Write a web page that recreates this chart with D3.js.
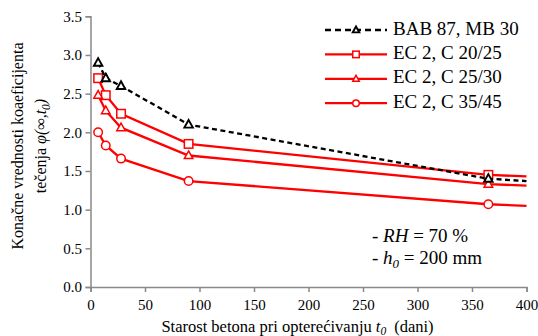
<!DOCTYPE html>
<html>
<head>
<meta charset="utf-8">
<script src="https://cdn.jsdelivr.net/npm/d3@7"></script>
<style>
  html, body { margin: 0; padding: 0; background: #fff; }
</style>
</head>
<body>
<svg id="chart" width="538" height="336" font-family="Liberation Serif"></svg>
<script>
// Age at loading t0 (days); the last point carries the curve to the end of the axis
const ages = [7, 14, 28, 90, 365, 400];
const markedCount = 5;

const bab87 = [2.9, 2.7, 2.6, 2.1, 1.4, 1.37];
const ec2C2025 = [2.7, 2.48, 2.24, 1.85, 1.45, 1.43];
const ec2C2530 = [2.48, 2.28, 2.06, 1.70, 1.33, 1.31];
const ec2C3545 = [2.0, 1.83, 1.66, 1.37, 1.07, 1.05];

const seriesNames = ["BAB 87, MB 30", "EC 2, C 20/25", "EC 2, C 25/30", "EC 2, C 35/45"];
const xTicks = [0, 50, 100, 150, 200, 250, 300, 350, 400];
const yTicks = [0.0, 0.5, 1.0, 1.5, 2.0, 2.5, 3.0, 3.5];

const series = [
  { name: seriesNames[0], values: bab87, color: "#000", dash: "5,3.5", marker: "triangle", mw: 1.9 },
  { name: seriesNames[1], values: ec2C2025, color: "#ff0000", dash: null, marker: "square", mw: 1.5 },
  { name: seriesNames[2], values: ec2C2530, color: "#ff0000", dash: null, marker: "triangle", mw: 1.5 },
  { name: seriesNames[3], values: ec2C3545, color: "#ff0000", dash: null, marker: "circle", mw: 1.5 }
];

const FONT = "Liberation Serif";
const svg = d3.select("#chart");
const x = d3.scaleLinear().domain([0, 400]).range([90.5, 526.5]);
const y = d3.scaleLinear().domain([0, 3.5]).range([287, 16.3]);
const axisColor = "#898989";

// Axes
const xAxis = svg.append("g").attr("transform", `translate(0,${y(0)})`)
  .call(d3.axisBottom(x).tickValues(xTicks).tickSize(5).tickFormat(d3.format("d")));
const yAxis = svg.append("g").attr("transform", `translate(${x(0)},0)`)
  .call(d3.axisLeft(y).tickValues(yTicks).tickSize(5).tickFormat(d3.format(".1f")));
[xAxis, yAxis].forEach(g => {
  g.attr("font-family", FONT);
  g.select(".domain").attr("stroke", axisColor).attr("stroke-width", 1.5);
  g.selectAll(".tick line").attr("stroke", axisColor).attr("stroke-width", 1.5);
  g.selectAll(".tick text").attr("fill", "#000").attr("font-size", 15).attr("font-family", FONT);
});
xAxis.selectAll(".tick text").attr("y", 12);
yAxis.selectAll(".tick text").attr("x", -8.5);

// Marker drawing
function drawMarker(g, type, cx, cy, size, color, sw) {
  if (type === "triangle") {
    const h = size * 0.9, w = size;
    g.append("path")
      .attr("d", `M${cx},${cy - h * 0.6}L${cx + w / 2},${cy + h * 0.4}L${cx - w / 2},${cy + h * 0.4}Z`)
      .attr("fill", "#fff").attr("stroke", color).attr("stroke-width", sw);
  } else if (type === "square") {
    g.append("rect")
      .attr("x", cx - size / 2).attr("y", cy - size / 2)
      .attr("width", size).attr("height", size)
      .attr("fill", "#fff").attr("stroke", color).attr("stroke-width", sw);
  } else {
    g.append("circle").attr("cx", cx).attr("cy", cy).attr("r", size / 2)
      .attr("fill", "#fff").attr("stroke", color).attr("stroke-width", sw);
  }
}

const line = d3.line().x(d => x(d[0])).y(d => y(d[1]));

// Draw red series first, then the dashed black series on top
const order = [1, 2, 3, 0];
order.forEach(i => {
  const s = series[i];
  const pts = ages.map((a, k) => [a, s.values[k]]);
  svg.append("path").datum(pts)
    .attr("d", line)
    .attr("fill", "none")
    .attr("stroke", s.color)
    .attr("stroke-width", 2.3)
    .attr("stroke-dasharray", s.dash);
  const mg = svg.append("g");
  pts.slice(0, markedCount).forEach(p => drawMarker(mg, s.marker, x(p[0]), y(p[1]), 8.5, s.color, s.mw));
});

// Legend
const legend = svg.append("g");
series.forEach((s, i) => {
  const ly = 30 + i * 24.4;
  legend.append("line")
    .attr("x1", 325).attr("x2", 387).attr("y1", ly).attr("y2", ly)
    .attr("stroke", s.color).attr("stroke-width", 2.3)
    .attr("stroke-dasharray", s.dash ? "6,4" : null);
  drawMarker(legend, s.marker, 356, ly, 6.5, s.color, s.mw);
  legend.append("text").attr("x", 393).attr("y", ly + 4.5).attr("font-family", FONT)
    .attr("font-size", 19).attr("fill", "#000").text(s.name);
});

// Annotation
const note = svg.append("g").attr("font-size", 19).attr("fill", "#000").attr("font-family", FONT);
const t1 = note.append("text").attr("x", 372).attr("y", 241.5);
t1.append("tspan").text("- ");
t1.append("tspan").attr("font-style", "italic").text("RH");
t1.append("tspan").text(" = 70 %");
const t2 = note.append("text").attr("x", 372).attr("y", 264);
t2.append("tspan").text("- ");
t2.append("tspan").attr("font-style", "italic").text("h");
t2.append("tspan").attr("font-style", "italic").attr("font-size", 13).attr("dy", 4).text("0");
t2.append("tspan").attr("dy", -4).text(" = 200 mm");

// X axis title
const xt = svg.append("text").attr("x", 297.5).attr("y", 331.5).attr("font-family", FONT)
  .attr("text-anchor", "middle").attr("font-size", 16.5).attr("fill", "#000");
xt.append("tspan").text("Starost betona pri opterećivanju ");
xt.append("tspan").attr("font-style", "italic").text("t");
xt.append("tspan").attr("font-style", "italic").attr("font-size", 11.5).attr("dy", 3.5).text("0");
xt.append("tspan").attr("dy", -3.5).attr("dx", 8).text("(dani)");

// Y axis title (two lines)
const yt = svg.append("g").attr("transform", "translate(0,146) rotate(-90)").attr("font-family", FONT)
  .attr("font-size", 16).attr("fill", "#000").attr("text-anchor", "middle");
yt.append("text").attr("x", 0).attr("y", 22.5).text("Konačne vrednosti koaeficijenta");
const yl2 = yt.append("text").attr("x", 0).attr("y", 46);
yl2.append("tspan").text("tečenja ");
yl2.append("tspan").attr("font-style", "italic").text("φ(∞,t");
yl2.append("tspan").attr("font-style", "italic").attr("font-size", 11.5).attr("dy", 3.5).text("0");
yl2.append("tspan").attr("font-style", "italic").attr("dy", -3.5).text(")");
</script>
</body>
</html>
